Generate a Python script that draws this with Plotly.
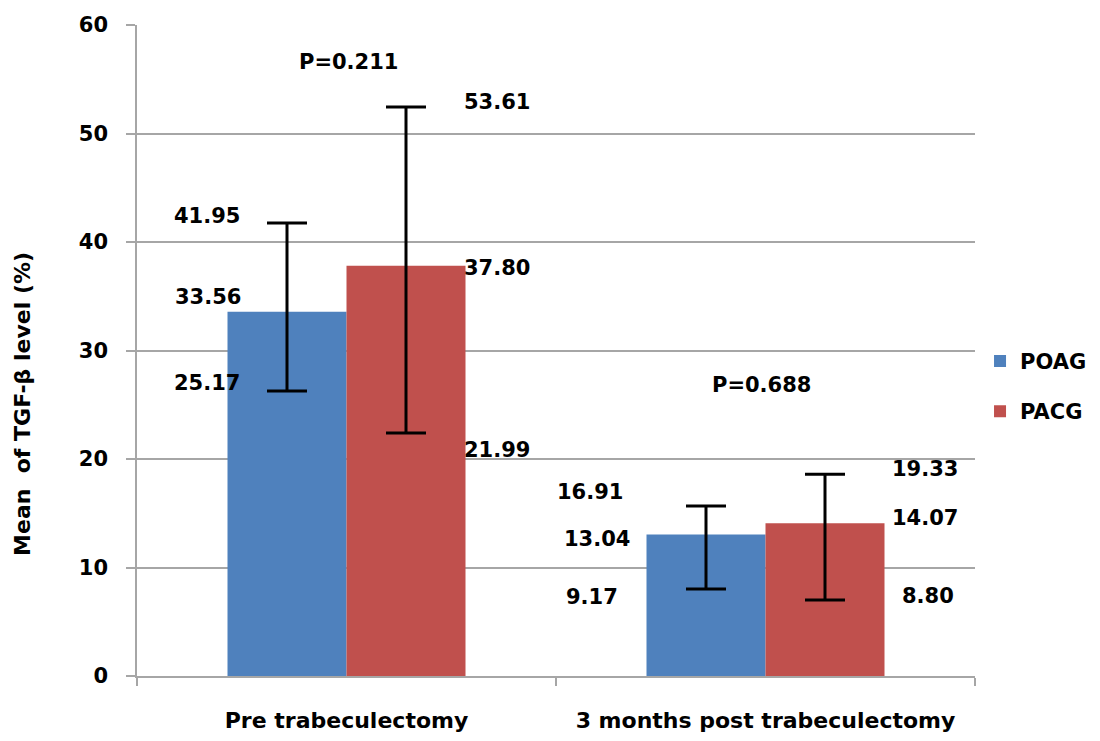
import plotly.graph_objects as go

# ---------------- data ----------------
categories = ["Pre trabeculectomy", "3 months post trabeculectomy"]
series_names = ["POAG", "PACG"]
poag_mean = [33.56, 13.04]
pacg_mean = [37.80, 14.07]

# error bar ends as drawn in the picture
poag_err_top = [41.75, 15.67]
poag_err_bottom = [26.27, 8.02]
pacg_err_top = [52.44, 18.60]
pacg_err_bottom = [22.40, 7.00]

# printed labels
poag_upper_label = [41.95, 16.91]
poag_lower_label = [25.17, 9.17]
pacg_upper_label = [53.61, 19.33]
pacg_lower_label = [21.99, 8.80]
p_values = ["P=0.211", "P=0.688"]
p_value_y = [56.6, 26.8]

colors = {"POAG": "#4F81BD", "PACG": "#C0504D"}
FONT = "DejaVu Sans"

fig = go.Figure()
for name, mean, top, bot in [
    ("POAG", poag_mean, poag_err_top, poag_err_bottom),
    ("PACG", pacg_mean, pacg_err_top, pacg_err_bottom),
]:
    fig.add_trace(go.Bar(
        x=categories, y=mean, name=name, legendgroup=name,
        marker=dict(color=colors[name], line=dict(width=0)),
        error_y=dict(type="data", symmetric=False,
                     array=[t - m for t, m in zip(top, mean)],
                     arrayminus=[m - b for m, b in zip(mean, bot)],
                     color="black", thickness=3, width=20),
    ))

# label offsets (pixels) relative to category centre: (xshift, yshift)
offsets = [
    # pre
    {"pu": (-140, 5), "pm": (-139, 15), "pl": (-140, 20),
     "au": (150, -8), "am": (150, -2), "al": (150, -13)},
    # post
    {"pu": (-176, 1), "pm": (-169, -4), "pl": (-174, -20),
     "au": (159, -3), "am": (159, 5), "al": (162, -15)},
]

annotations = []
for i, cat in enumerate(categories):
    o = offsets[i]
    items = [
        ("pu", poag_upper_label[i]), ("pm", poag_mean[i]), ("pl", poag_lower_label[i]),
        ("au", pacg_upper_label[i]), ("am", pacg_mean[i]), ("al", pacg_lower_label[i]),
    ]
    for key, val in items:
        xs, ys = o[key]
        annotations.append(dict(
            x=cat, y=val, xref="x", yref="y", text=f"{val:.2f}",
            showarrow=False, xshift=xs, yshift=ys,
            font=dict(family=FONT, size=21, color="black", weight="bold"),
        ))
    annotations.append(dict(
        x=cat, y=p_value_y[i], xref="x", yref="y", text=p_values[i],
        showarrow=False, xshift=2 if i == 0 else -4,
        font=dict(family=FONT, size=21, color="black", weight="bold"),
    ))

annotations.append(dict(
    x=-0.136, y=0.418, xref="paper", yref="paper",
    xanchor="center", yanchor="middle",
    text="Mean  of TGF-β level (%)", textangle=-90, showarrow=False,
    font=dict(family=FONT, size=22, color="black", weight="bold"),
))

fig.update_layout(
    width=1100, height=741,
    margin=dict(l=129, r=133, t=17, b=73, autoexpand=False),
    paper_bgcolor="white", plot_bgcolor="white",
    barmode="group", bargap=0.432, bargroupgap=0,
    font=dict(family=FONT, size=21, color="black", weight="bold"),
    annotations=annotations,
    showlegend=True,
    legend=dict(x=1.006, y=0.515, xanchor="left", yanchor="top",
                tracegroupgap=20, itemwidth=30,
                font=dict(family=FONT, size=21, color="black", weight="bold"),
                bgcolor="rgba(0,0,0,0)"),
)

fig.update_yaxes(
    range=[0, 60], dtick=10, tick0=0, automargin=False,
    showgrid=True, gridcolor="#A6A6A6", gridwidth=1.5,
    showline=True, linecolor="#A6A6A6", linewidth=1.5,
    ticks="outside", ticklen=9, tickcolor="#A6A6A6", tickwidth=1.5,
    ticklabelstandoff=14, zeroline=False,
    tickfont=dict(family=FONT, size=21, color="black", weight="bold"),
)
fig.update_xaxes(
    automargin=False,
    showgrid=False, showline=True, linecolor="#A6A6A6", linewidth=1.5,
    ticks="outside", tickson="boundaries", ticklen=8, tickcolor="#A6A6A6",
    tickwidth=1.5, ticklabelstandoff=24,
    tickfont=dict(family=FONT, size=22, color="black", weight="bold"),
)

fig.write_html("out.html")
